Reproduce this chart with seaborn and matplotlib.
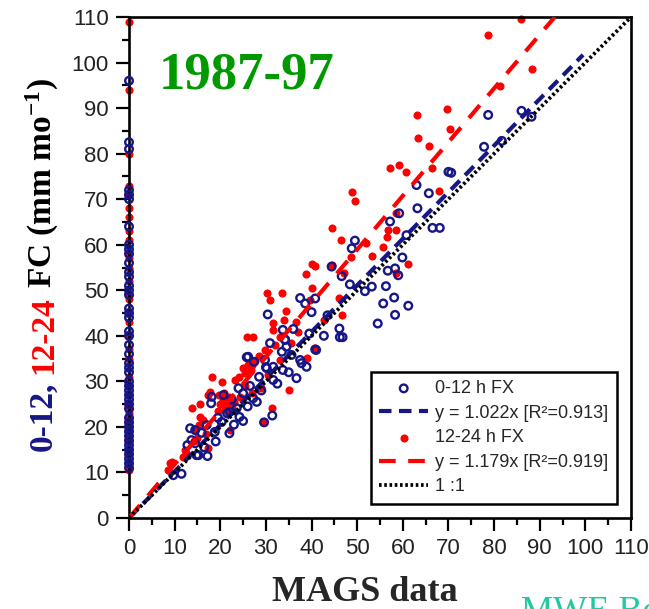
import matplotlib
matplotlib.use("Agg")
import matplotlib.pyplot as plt
import pandas as pd
import seaborn as sns
from matplotlib.ticker import MultipleLocator


W, H = 649, 609
NAVY = "#161686"
RED = "#ff0000"
GREEN = "#009a00"
TEAL = "#22c8a0"
SERIF = ["Liberation Serif", "DejaVu Serif"]
SANS = ["Liberation Sans", "DejaVu Sans"]

# 0-12 h forecasts: points where MAGS reports 0, then the paired cloud
fx012_fc_at_zero = [96, 82.5, 81, 72, 71, 70, 64, 60, 59, 58, 56, 54, 53, 51, 50, 49,
                    46, 45, 44, 41, 40, 38, 36, 34, 33, 32, 30, 29, 28, 27, 26, 25,
                    24, 22, 21, 20, 19, 18, 17, 16, 15, 14, 13, 12, 11]
fx012_mags = [88.2, 86.0, 78.7, 81.7, 77.8, 70.0, 70.6, 63.0, 65.7, 63.2, 59.2, 57.2,
              66.5, 68.1, 60.8, 49.5, 48.8, 59.9, 44.4, 46.6, 56.7, 58.3, 59.0, 48.4,
              51.7, 53.2, 56.3, 55.7, 58.1, 61.2, 58.3, 54.5, 38.6, 40.8, 40.0, 42.7,
              46.1, 46.2, 46.8, 40.8, 30.4, 25.8, 27.4, 29.8, 30.0, 31.6, 33.5, 33.7,
              34.2, 35.6, 36.7, 31.6, 33.7, 37.5, 37.8, 38.9, 41.0, 31.4, 29.6, 27.2,
              25.0, 23.6, 22.0, 20.3, 18.8, 18.1, 18.0, 20.7, 13.4, 14.5, 13.7, 14.5,
              14.8, 17.2, 11.5, 15.9, 17.0, 22.1, 24.2, 25.0, 26.1, 30.2, 30.9, 34.2,
              34.5, 9.7, 15.2, 28.5, 26.5, 24.0, 21.5, 19.5, 23.0, 32.5, 35.0, 28.0,
              22.5, 12.8, 16.5, 19.0, 36.0, 39.5, 43.5, 29.0, 26.0, 37.5]
fx012_fc = [88.1, 89.4, 88.5, 82.8, 81.5, 76.0, 75.8, 73.1, 71.3, 68.0, 66.9, 65.1,
            63.7, 63.7, 62.1, 60.9, 59.2, 57.2, 55.2, 53.1, 54.3, 54.8, 53.3, 51.3,
            49.8, 50.8, 50.9, 47.1, 48.4, 46.6, 44.6, 42.7, 47.1, 48.2, 45.2, 40.0,
            41.6, 39.7, 39.7, 37.0, 44.7, 35.3, 34.3, 34.7, 33.1, 33.2, 36.5, 41.3,
            39.2, 35.8, 30.7, 30.3, 32.5, 34.7, 34.0, 33.2, 36.9, 22.5, 21.0, 26.3,
            27.4, 24.1, 18.6, 21.1, 18.9, 26.6, 25.2, 27.0, 19.7, 19.3, 17.1, 16.4,
            13.8, 13.6, 9.7, 18.7, 20.4, 23.3, 22.2, 21.3, 35.4, 32.9, 38.4, 39.1,
            37.6, 9.4, 13.8, 31.0, 29.0, 28.5, 23.0, 22.0, 20.5, 29.5, 32.0, 25.5,
            26.0, 16.0, 15.5, 16.8, 41.5, 40.5, 44.5, 28.0, 24.5, 48.3]

# 12-24 h forecasts
fx1224_fc_at_zero = [109, 94, 80, 73, 71, 68, 66, 63, 61, 58, 57, 55, 52, 49, 48, 45,
                     43, 40, 37, 35, 31, 29, 27, 25, 24, 23, 22, 21, 20, 19, 18, 17,
                     15, 14, 12, 11, 10.5]
fx1224_mags = [85.9, 78.6, 88.4, 81.3, 69.6, 63.0, 70.3, 63.3, 65.7, 66.3, 57.2, 59.1,
               60.8, 68.0, 48.8, 49.6, 58.4, 44.4, 46.4, 56.8, 58.6, 51.9, 55.7, 56.5,
               48.6, 53.2, 61.2, 40.0, 40.8, 38.7, 47.2, 58.5, 40.2, 46.1, 46.7, 42.7,
               30.2, 30.9, 33.5, 25.8, 27.2, 31.5, 31.6, 34.3, 34.0, 29.9, 33.1, 25.0,
               26.1, 23.2, 18.1, 20.4, 20.5, 21.5, 22.0, 21.0, 22.5, 20.0, 21.8, 19.5,
               23.0, 20.8, 15.6, 13.7, 17.4, 29.4, 31.3, 35.1, 37.1, 38.9, 40.8, 15.6,
               14.5, 12.3, 9.0, 8.6, 17.4, 33.1, 26.9, 17.7, 19.8, 12.5, 11.9, 22.1,
               24.3, 9.4, 24.0, 25.5, 27.5, 28.5, 26.8, 15.4, 16.2, 16.8, 15.0, 14.2,
               36.5, 35.5, 32.0, 29.0, 27.0, 25.5, 30.5, 39.7, 44.5]
fx1224_fc = [109.5, 106.0, 98.6, 94.8, 89.9, 88.5, 85.5, 83.5, 81.7, 76.8, 76.9, 77.5,
             75.9, 71.8, 71.5, 69.5, 66.9, 63.6, 61.0, 63.2, 63.2, 60.3, 59.6, 61.8,
             57.2, 57.6, 55.7, 55.7, 55.3, 53.6, 53.7, 53.9, 50.4, 48.2, 44.6, 43.5,
             49.3, 47.9, 49.5, 39.7, 39.7, 42.9, 41.3, 45.4, 43.5, 36.9, 34.8, 32.9,
             33.6, 30.3, 30.9, 29.8, 26.0, 25.0, 26.5, 24.0, 24.5, 25.0, 23.2, 23.5,
             25.5, 27.5, 25.0, 24.1, 27.0, 21.1, 24.1, 28.1, 40.9, 35.1, 37.3, 22.2,
             19.3, 14.9, 12.0, 10.5, 15.3, 39.8, 33.6, 27.7, 27.0, 14.2, 13.5, 19.3,
             26.6, 12.4, 31.0, 31.8, 34.5, 35.5, 32.5, 20.5, 21.5, 18.5, 17.5, 16.8,
             43.0, 38.5, 38.0, 28.5, 27.5, 29.0, 31.5, 47.9, 55.5]

slope_012 = 1.022
slope_1224 = 1.179
fit_end_012 = 99.5
fit_end_1224 = 93.3
one_to_one_end = 110
axis_ticks = list(range(0, 111, 10))

legend_labels = ["0-12 h FX", "y = 1.022x [R²=0.913]", "12-24 h FX",
                 "y = 1.179x [R²=0.919]", "1 :1"]
ylabel_parts = [("0-12,", NAVY), ("12-24", RED), ("FC (mm mo$^{-1}$)", "black")]


def draw_rotated_label(fig, parts, x_px, center_px, **font):
    fig.canvas.draw()
    renderer = fig.canvas.get_renderer()

    def length(s):
        t = fig.text(0, 0, s, **font)
        w = t.get_window_extent(renderer).width
        t.remove()
        return w

    gap = length("a a") - length("aa")
    sizes = [length(s) for s, _ in parts]
    y = center_px - (sum(sizes) + gap * (len(parts) - 1)) / 2
    for (s, c), size in zip(parts, sizes):
        fig.text(x_px / W, y / H, s, color=c, rotation=90, rotation_mode="anchor",
                 ha="left", va="baseline", **font)
        y += size + gap


def main():
    sns.set_style("ticks")
    plt.rcParams["font.family"] = SANS
    plt.rcParams["mathtext.default"] = "regular"

    df012 = pd.DataFrame({"mags": [0] * len(fx012_fc_at_zero) + fx012_mags,
                          "fc": fx012_fc_at_zero + fx012_fc})
    df1224 = pd.DataFrame({"mags": [0] * len(fx1224_fc_at_zero) + fx1224_mags,
                           "fc": fx1224_fc_at_zero + fx1224_fc})

    fig = plt.figure(figsize=(W / 100, H / 100), dpi=100)
    ax = fig.add_axes([129 / W, 91 / H, 502 / W, 501 / H])

    sns.scatterplot(data=df1224, x="mags", y="fc", ax=ax, color=RED, s=34,
                    linewidth=0, zorder=2, label=legend_labels[2], clip_on=False)
    sns.scatterplot(data=df012, x="mags", y="fc", ax=ax, color=NAVY, s=30,
                    zorder=3, label=legend_labels[0], clip_on=False)
    rings = ax.collections[-1]
    rings.set_facecolor("none")
    rings.set_edgecolor(NAVY)
    rings.set_linewidth(1.7)

    sns.lineplot(x=[0, fit_end_012], y=[0, slope_012 * fit_end_012], ax=ax,
                 color=NAVY, lw=3, linestyle=(0, (3, 1.8)), zorder=4,
                 label=legend_labels[1])
    sns.lineplot(x=[0, fit_end_1224], y=[0, slope_1224 * fit_end_1224], ax=ax,
                 color=RED, lw=3, linestyle=(0, (4, 3)), zorder=4,
                 label=legend_labels[3])
    sns.lineplot(x=[0, one_to_one_end], y=[0, one_to_one_end], ax=ax,
                 color="black", lw=2.7, linestyle=(0, (0.7, 0.7)), zorder=4,
                 label=legend_labels[4])

    ax.set_xlim(0, 110)
    ax.set_ylim(0, 110)
    ax.set_xticks(axis_ticks)
    ax.set_yticks(axis_ticks)
    ax.xaxis.set_minor_locator(MultipleLocator(5))
    ax.yaxis.set_minor_locator(MultipleLocator(5))
    ax.tick_params(which="major", length=9.5, width=1.6, direction="out",
                   labelsize=16, pad=5, color="black", labelcolor="#222222")
    ax.tick_params(which="minor", length=5, width=1.6, direction="out", color="black")
    for spine in ax.spines.values():
        spine.set_linewidth(1.9)
        spine.set_color("black")
    ax.set_xlabel("")
    ax.set_ylabel("")

    handles, labels = ax.get_legend_handles_labels()
    by_label = dict(zip(labels, handles))
    leg = ax.legend([by_label[l] for l in legend_labels], legend_labels,
                    loc="lower right", fontsize=13, frameon=True, fancybox=False,
                    edgecolor="black", framealpha=1, handlelength=2.7,
                    handletextpad=0.4, labelspacing=0.42, borderaxespad=0.8,
                    borderpad=0.45)
    leg.get_frame().set_linewidth(1.8)

    ax.text(0.06, 0.858, "1987-97", transform=ax.transAxes, fontsize=38,
            fontweight="bold", color=GREEN, family=SERIF, ha="left", va="baseline")
    fig.text(364.6 / W, (H - 601) / H, "MAGS data", ha="center", va="baseline",
             fontsize=26, fontweight="bold", family=SERIF)
    fig.text(521 / W, (H - 621) / H, "MWE Be", ha="left", va="baseline",
             fontsize=26, color=TEAL, family=SERIF)

    draw_rotated_label(fig, ylabel_parts, 52, H - 264.5, fontsize=24,
                       fontweight="bold", family=SERIF)

    fig.savefig("out.png", dpi=100)
    plt.close(fig)


if __name__ == "__main__":
    main()
